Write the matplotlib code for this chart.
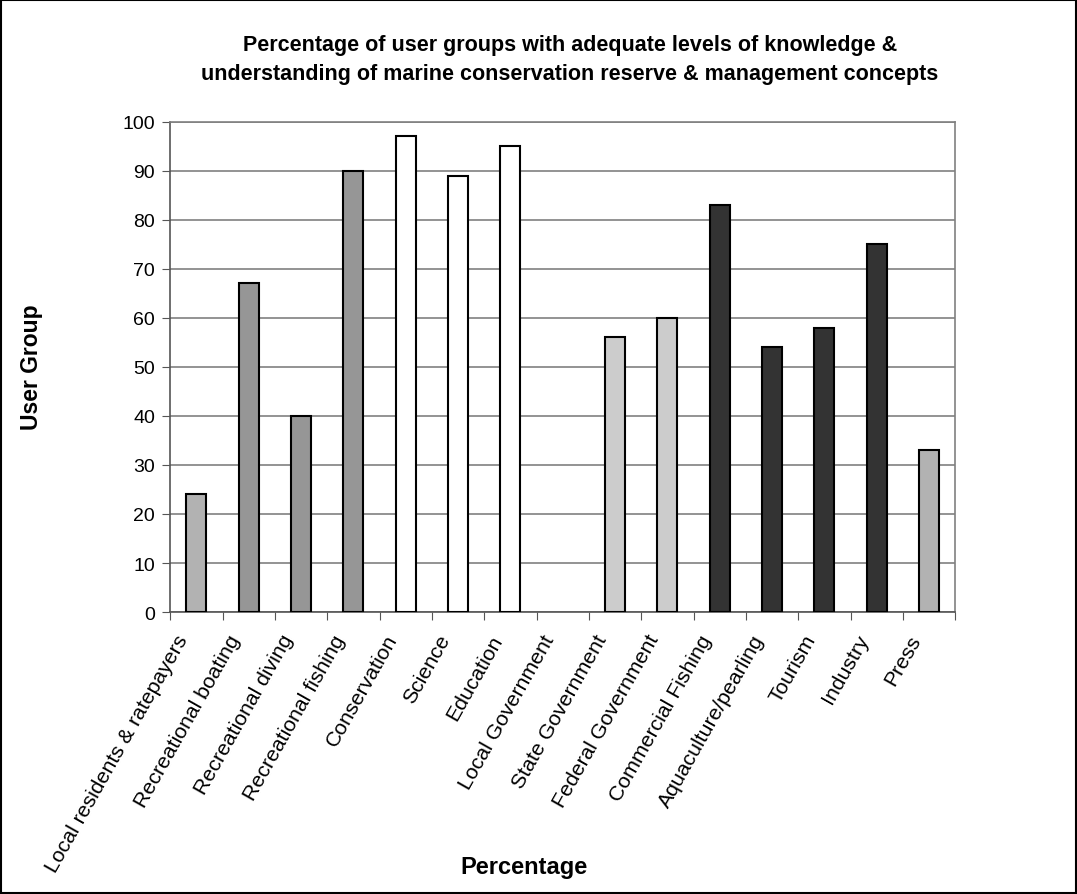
import numpy as np
from matplotlib import pyplot as plt
from matplotlib.transforms import ScaledTranslation

plt.rcParams['font.family'] = ['Liberation Sans', 'DejaVu Sans']

groups = ["Local residents & ratepayers", "Recreational boating", "Recreational diving",
          "Recreational fishing", "Conservation", "Science", "Education",
          "Local Government", "State Government", "Federal Government",
          "Commercial Fishing", "Aquaculture/pearling", "Tourism", "Industry", "Press"]
percent = [24, 67, 40, 90, 97, 89, 95, 0, 56, 60, 83, 54, 58, 75, 33]
colours = ["#b2b2b2", "#969696", "#969696", "#969696", "#ffffff", "#ffffff", "#ffffff",
           "#ffffff", "#cccccc", "#cccccc", "#333333", "#333333", "#333333", "#333333",
           "#b2b2b2"]

fig = plt.figure(figsize=(10.77, 8.95), dpi=100)
ax = fig.add_axes([0.158, 0.315, 0.729, 0.548])

x = np.arange(len(groups))
# an empty bar gets no outline
widths = [1.5 if v > 0 else 0 for v in percent]
ax.bar(x, percent, width=0.38, color=colours, edgecolor='black', linewidth=widths, zorder=3)

ax.set_xlim(-0.5, len(groups) - 0.5)
ax.set_ylim(0, 100)
ax.set_yticks(range(0, 101, 10))
ax.yaxis.grid(True, color='#808080', linewidth=1.2, zorder=0)

# ticks between categories, labels drawn at centres (nudged left like Excel does)
ax.set_xticks(np.arange(-0.5, len(groups), 1.0))
ax.set_xticklabels([])
shift = ScaledTranslation(-21 / 100, -19 / 100, fig.dpi_scale_trans)
for xi, name in zip(x, groups):
    ax.text(xi, 0, name, transform=ax.get_xaxis_transform() + shift,
            rotation=60.5, ha='right', va='top', rotation_mode='anchor', fontsize=15.3)
ax.tick_params(axis='x', which='major', length=6, color='#555555', direction='out')
ax.tick_params(axis='y', length=6, color='#555555', labelsize=14, pad=5)

ax.spines['left'].set_color('#555555')
ax.spines['bottom'].set_color('#555555')
ax.spines['right'].set_color('#808080')
ax.spines['top'].set_color('#808080')
for s in ax.spines.values():
    s.set_linewidth(1.2)

fig.text(0.529, 0.933, "Percentage of user groups with adequate levels of knowledge &\n"
         "understanding of marine conservation reserve & management concepts",
         ha='center', va='center', fontsize=15.5, fontweight='bold', linespacing=1.5)
fig.text(0.029, 0.59, "User Group", rotation=90, ha='center', va='center',
         fontsize=16.5, fontweight='bold')
fig.text(0.487, 0.031, "Percentage", ha='center', va='center', fontsize=17,
         fontweight='bold')

border = plt.Rectangle((0.001, 0.001), 0.998, 0.998, transform=fig.transFigure,
                       fill=False, edgecolor='black', linewidth=1.5)
fig.patches.append(border)

fig.savefig('out.png', dpi=100)
